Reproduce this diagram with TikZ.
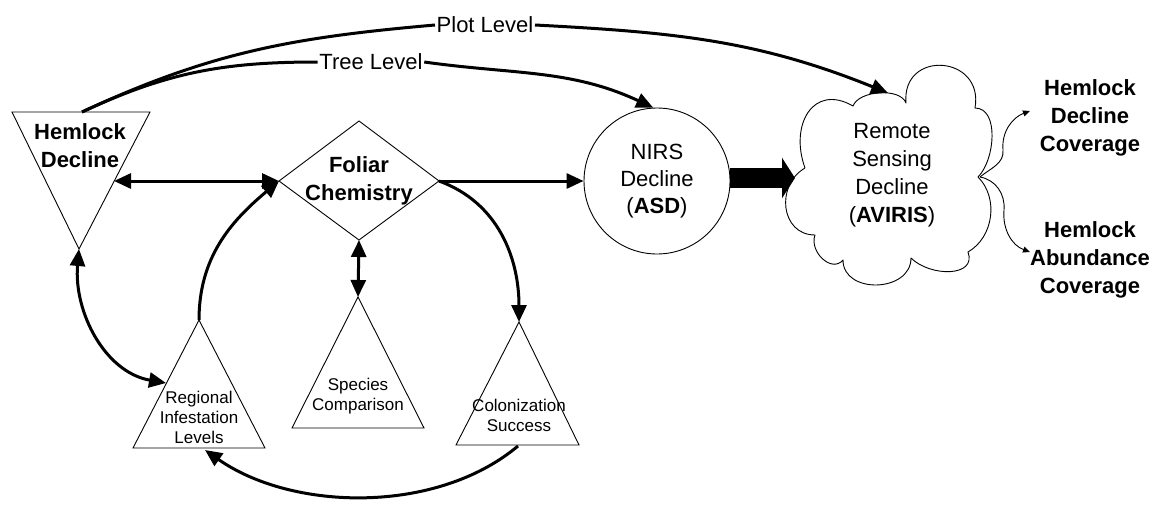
\documentclass[tikz,border=0pt]{standalone}
\usepackage{fontspec}
\setmainfont{Liberation Sans}
\usetikzlibrary{arrows.meta}
\begin{document}
\begin{tikzpicture}[x=1pt,y=1pt,
  outline/.style={draw=black,line width=0.9pt,line join=miter},
  conn/.style={draw=black,line width=3pt},
  bigbold/.style={font=\fontsize{22}{28}\selectfont\bfseries,align=center,inner sep=0pt},
  bigreg/.style={font=\fontsize{22}{28}\selectfont,align=center,inner sep=0pt},
  smallreg/.style={font=\fontsize{17}{20}\selectfont,align=center,inner sep=0pt},
  lvl/.style={font=\fontsize{22}{28}\selectfont,inner xsep=1.5pt,inner ysep=0pt},
  >={Triangle[length=17pt,width=15pt]},
  thintip/.style={-{Triangle[length=7pt,width=6pt]}},
  block/.style={draw=black,line width=20pt,-{Triangle[length=13pt,width=40pt]}}
]
\useasboundingbox (0,0) rectangle (1165,-506);

% Hemlock Decline (inverted triangle)
\coordinate (hdL) at (12,-112);
\coordinate (hdR) at (150,-112);
\coordinate (hdB) at (79,-249);
\coordinate (hdT) at (82,-112);
\coordinate (hdE) at (114,-181);
\draw[outline] (hdL) -- (hdR) -- (hdB) -- cycle;
\node[bigbold] (hd) at (80,-146) {Hemlock\\Decline};

% Foliar Chemistry (diamond)
\coordinate (fcT) at (359,-121);
\coordinate (fcL) at (279,-181);
\coordinate (fcB) at (359,-240);
\coordinate (fcR) at (439,-181);
\draw[outline] (fcT) -- (fcR) -- (fcB) -- (fcL) -- cycle;
\node[bigbold] (fc) at (359,-181) {Foliar\\Chemistry};

% NIRS circle
\node[outline,circle,minimum size=146pt,inner sep=0pt,align=center,
      font=\fontsize{22}{27}\selectfont] (nirs) at (657,-181)
      {NIRS\\Decline\\(\textbf{ASD})};

% Cloud
\coordinate (n1) at (805,-168);
\coordinate (n2) at (853,-106);
\coordinate (n3) at (906,-103);
\coordinate (n4) at (975,-108);
\coordinate (n5) at (978,-177);
\coordinate (n6) at (968,-252);
\coordinate (n7) at (911,-258);
\coordinate (n8) at (843,-260);
\coordinate (n9) at (815,-235);
\draw[outline,line join=round] (n1)
  to[out=110,in=150,looseness=1.5] (n2)
  to[out=70,in=110,looseness=0.8] (n3)
  to[out=95,in=80,looseness=2] (n4)
  to[out=0,in=45,looseness=0.9] (n5)
  to[out=-45,in=30,looseness=1] (n6)
  to[out=-70,in=-45,looseness=1.2] (n7)
  to[out=-90,in=-90,looseness=1.3] (n8)
  to[out=-130,in=-110,looseness=1.2] (n9)
  to[out=180,in=-150,looseness=1.3] (n1);
\node[bigreg] (rs) at (892,-175) {Remote\\Sensing\\Decline\\(\textbf{AVIRIS})};
\coordinate (cL) at (795,-178);
\coordinate (cT) at (888,-93);
\coordinate (cR) at (980,-177);

% Right-hand outputs
\node[bigbold] (hdc) at (1090,-118) {Hemlock\\Decline\\Coverage};
\node[bigbold] (hac) at (1090,-260) {Hemlock\\Abundance\\Coverage};
\coordinate (hdcW) at (1030,-111);
\coordinate (hacW) at (1030,-252);
\coordinate (w1) at (1003,-150);
\coordinate (w2) at (1004,-210);

% Lower triangles
\coordinate (rA) at (199,-320);
\coordinate (rBL) at (133,-448);
\coordinate (rBR) at (265,-448);
\coordinate (rBot) at (205,-450);
\coordinate (rLe) at (166,-383);
\draw[outline] (rA) -- (rBR) -- (rBL) -- cycle;
\node[smallreg] (reg) at (199,-417) {Regional\\Infestation\\Levels};

\coordinate (sA) at (358,-297);
\coordinate (sBL) at (292,-428);
\coordinate (sBR) at (424,-428);
\draw[outline] (sA) -- (sBR) -- (sBL) -- cycle;
\node[smallreg] (sp) at (358,-396) {Species\\Comparison};

\coordinate (cA) at (519,-322);
\coordinate (cBL) at (456,-445);
\coordinate (cBR) at (579,-445);
\coordinate (cBot) at (518,-446);
\draw[outline] (cA) -- (cBR) -- (cBL) -- cycle;
\node[smallreg] (col) at (519,-415) {Colonization\\Success};

% Level labels
\node[lvl] (plot) at (485,-25) {Plot Level};
\node[lvl] (tree) at (371,-62) {Tree Level};

% Connectors
\draw[conn] (hdT) to[out=25,in=185] (plot.west);
\draw[conn,->] (plot.east) to[out=-3,in=158] (cT);
\draw[conn] (hdT) to[out=25,in=180] (tree.west);
\draw[conn,->] (tree.east) to[out=-8,in=155] (nirs.93);

\draw[conn,<->] (hdE) -- (fcL);
\draw[conn,->] (fcR) -- (nirs.west);
\draw[conn,<->] (fcB) -- (sA);
\draw[conn,->] (fcR) to[out=-20,in=90] (cA);
\draw[conn,->] (rA) to[out=90,in=220] (fcL);
\draw[conn,<->] (hdB) to[out=-95,in=170] (rLe);
\draw[conn,->] (cBot) to[out=220,in=-35,looseness=0.87] (rBot);

\draw[block] (nirs.east |- cL) -- (cL);

\draw[outline,thintip] (cR) to[out=40,in=-85] (w1) to[out=95,in=200] (hdcW);
\draw[outline,thintip] (cR) to[out=-10,in=85] (w2) to[out=-95,in=160] (hacW);
\end{tikzpicture}
\end{document}
